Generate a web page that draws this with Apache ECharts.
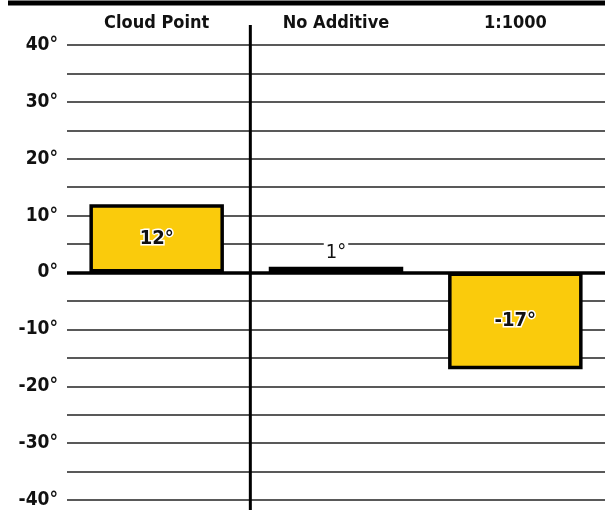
<!DOCTYPE html>
<html>
<head>
<meta charset="utf-8">
<script src="https://cdn.jsdelivr.net/npm/echarts@6/dist/echarts.min.js"></script>
<style>
  html, body { margin: 0; padding: 0; background: #fff; }
  #chart { width: 611px; height: 515px; }
</style>
</head>
<body>
<div id="chart"></div>
<script>
const categories = ['Cloud Point', 'No Additive', '1:1000']
const temps = [12, 1, -17]
const yMin = -40
const yMax = 40
const yStep = 5

const font = '"DejaVu Sans Condensed", "DejaVu Sans", sans-serif'
const barColor = '#FACB0C'

const chart = echarts.init(document.getElementById('chart'))

const barData = temps.map((v, i) => {
  const small = Math.abs(v) < 5
  return {
    value: v,
    label: small
      ? { position: 'top', distance: 4, textBorderWidth: 0, fontWeight: 500, fontSize: 20, backgroundColor: '#fff', padding: [0, 2] }
      : { position: 'inside' }
  }
})

chart.setOption({
  animation: false,
  grid: { left: 67, right: 6, top: 45, bottom: 15 },
  xAxis: [{
    type: 'category',
    position: 'top',
    data: categories,
    axisLine: { show: false },
    axisTick: { show: false },
    axisLabel: {
      margin: 13,
      color: '#111',
      fontFamily: font,
      fontWeight: 'bold',
      fontSize: 18
    }
  }],
  yAxis: {
    type: 'value',
    min: yMin,
    max: yMax,
    interval: yStep,
    axisLine: { show: false },
    axisTick: { show: false },
    splitLine: { lineStyle: { color: '#222', width: 1.5 } },
    axisLabel: {
      margin: 9,
      color: '#111',
      fontFamily: font,
      fontWeight: 'bold',
      fontSize: 19,
      formatter: v => (v % 10 === 0 ? v + '°' : '')
    }
  },
  series: [{
    type: 'bar',
    data: barData,
    barWidth: '75%',
    itemStyle: { color: barColor, borderColor: '#000', borderWidth: 3.5 },
    label: {
      show: true,
      formatter: p => p.value + '°',
      color: '#111',
      fontFamily: font,
      fontWeight: 'bold',
      fontSize: 20,
      textBorderColor: '#fff',
      textBorderWidth: 3
    },
    markLine: {
      silent: true,
      symbol: 'none',
      label: { show: false },
      lineStyle: { color: '#000', width: 3.5, type: 'solid' },
      data: [{ yAxis: 0 }]
    }
  }]
})

// decorations: top rule and the divider after the first column
const topY = chart.convertToPixel({ yAxisIndex: 0 }, yMax)
const botY = chart.convertToPixel({ yAxisIndex: 0 }, yMin)
const c0 = chart.convertToPixel({ xAxisIndex: 0 }, 0)
const c1 = chart.convertToPixel({ xAxisIndex: 0 }, 1)
const divX = (c0 + c1) / 2 + 4

chart.setOption({
  graphic: [
    {
      type: 'line',
      shape: { x1: 8, y1: 3, x2: 605, y2: 3 },
      style: { stroke: '#000', lineWidth: 5 }
    },
    {
      type: 'line',
      z: 10,
      shape: { x1: divX, y1: topY - 20, x2: divX, y2: botY + 10 },
      style: { stroke: '#000', lineWidth: 3 }
    }
  ]
})
</script>
</body>
</html>
